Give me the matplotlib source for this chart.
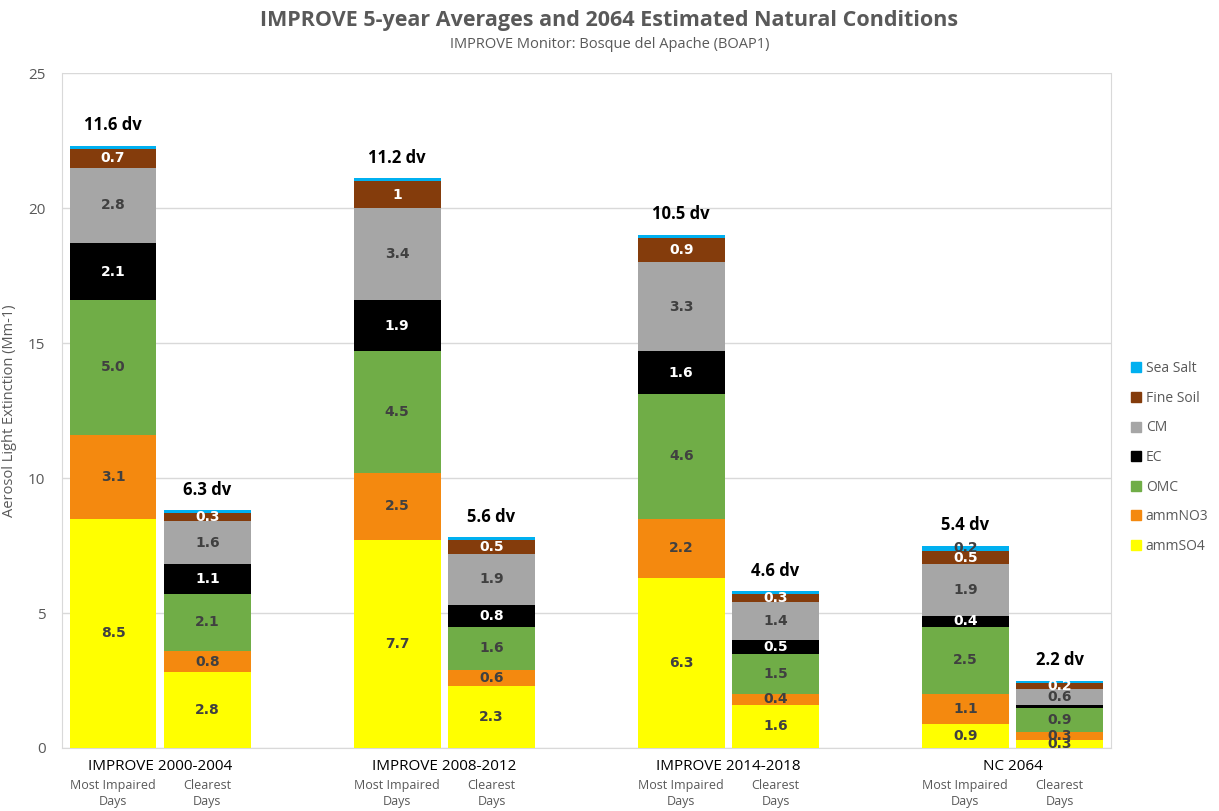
import numpy as np
import matplotlib
matplotlib.use("Agg")
import matplotlib.pyplot as plt
from matplotlib.lines import Line2D

# groups and bars
groups = ["IMPROVE 2000-2004", "IMPROVE 2008-2012", "IMPROVE 2014-2018", "NC 2064"]
day_types = ["Most Impaired\nDays", "Clearest\nDays"]

# species values, bar order: G1 MI, G1 CD, G2 MI, G2 CD, G3 MI, G3 CD, G4 MI, G4 CD
ammSO4 = [8.5, 2.8, 7.7, 2.3, 6.3, 1.6, 0.9, 0.3]
ammNO3 = [3.1, 0.8, 2.5, 0.6, 2.2, 0.4, 1.1, 0.3]
OMC = [5.0, 2.1, 4.5, 1.6, 4.6, 1.5, 2.5, 0.9]
EC = [2.1, 1.1, 1.9, 0.8, 1.6, 0.5, 0.4, 0.1]
CM = [2.8, 1.6, 3.4, 1.9, 3.3, 1.4, 1.9, 0.6]
fine_soil = [0.7, 0.3, 1.0, 0.5, 0.9, 0.3, 0.5, 0.2]
sea_salt = [0.1, 0.1, 0.1, 0.1, 0.1, 0.1, 0.2, 0.1]
deciview = [11.6, 6.3, 11.2, 5.6, 10.5, 4.6, 5.4, 2.2]

series = [
    ("ammSO4", ammSO4, "#FFFF00", "#404040", "{:.1f}"),
    ("ammNO3", ammNO3, "#F4890F", "#404040", "{:.1f}"),
    ("OMC", OMC, "#70AD47", "#404040", "{:.1f}"),
    ("EC", EC, "#000000", "white", "{:.1f}"),
    ("CM", CM, "#A6A6A6", "#404040", "{:.1f}"),
    ("Fine Soil", fine_soil, "#843C0C", "white", "{:g}"),
    ("Sea Salt", sea_salt, "#00B0F0", "#404040", "{:.1f}"),
]

fig = plt.figure(figsize=(12.19, 8.11), dpi=100)
ax = fig.add_axes([0.051, 0.0777, 0.860, 0.832])

grp_x = np.arange(len(groups))
offset = 0.166
width = 0.306
xs = np.ravel([[g - offset, g + offset] for g in grp_x])

bottom = np.zeros(len(xs))
for name, vals, color, lcol, fmt in series:
    vals = np.array(vals)
    ax.bar(xs, vals, width, bottom=bottom, color=color, label=name, zorder=3)
    for x, b, v in zip(xs, bottom, vals):
        if v >= 0.2:
            ax.text(x, b + v / 2, fmt.format(v), ha="center", va="center",
                    fontsize=10, fontweight="bold", color=lcol, zorder=4)
    bottom += vals

for x, top, dv in zip(xs, bottom, deciview):
    ax.annotate(f"{dv} dv", (x, top), xytext=(0, 15), textcoords="offset points",
                ha="center", va="center", fontsize=12, fontweight="bold",
                family="Open Sans", color="black")

ax.set_xlim(-0.345, 3.345)
ax.set_ylim(0, 25)
ax.set_yticks([0, 5, 10, 15, 20, 25])
ax.grid(axis="y", color="#D9D9D9", linewidth=1, zorder=0)
ax.spines["top"].set_visible(False)
for s in ["left", "right", "bottom"]:
    ax.spines[s].set_color("#D9D9D9")
ax.tick_params(axis="y", length=0, labelsize=11, labelcolor="#595959", pad=12)
ax.tick_params(axis="x", length=0)
ax.set_xticks([])
for lab in ax.get_yticklabels():
    lab.set_family("Open Sans")

# category labels
for g, name in zip(grp_x, groups):
    ax.text(g, -0.4, name, ha="center", va="top", fontsize=11,
            family="Open Sans", color="black")
    for k, d in enumerate(day_types):
        x = g - offset if k == 0 else g + offset
        ax.text(x, -1.15, d, ha="center", va="top", fontsize=9,
                family="Open Sans", color="#595959", linespacing=1.3)

ax.set_ylabel("Aerosol Light Extinction (Mm-1)", fontsize=10.5, color="#595959",
              family="Open Sans", labelpad=8)

fig.text(0.5, 0.975, "IMPROVE 5-year Averages and 2064 Estimated Natural Conditions",
         ha="center", va="center", fontsize=15.5, fontweight="bold",
         family="Open Sans", color="#595959")
fig.text(0.5, 0.945, "IMPROVE Monitor: Bosque del Apache (BOAP1)", ha="center",
         va="center", fontsize=10.5, family="Open Sans", color="#595959")

handles = [Line2D([], [], marker="s", linestyle="", markersize=7,
                  markerfacecolor=c, markeredgecolor=c, label=n)
           for n, v, c, lc, f in series[::-1]]
leg = fig.legend(handles=handles, loc="upper left", bbox_to_anchor=(0.916, 0.57),
                 frameon=False, labelspacing=1.05, handletextpad=0.2,
                 handlelength=1.0, prop={"family": "Open Sans", "size": 10})
for t in leg.get_texts():
    t.set_color("#595959")

fig.savefig("out.png", dpi=100)
